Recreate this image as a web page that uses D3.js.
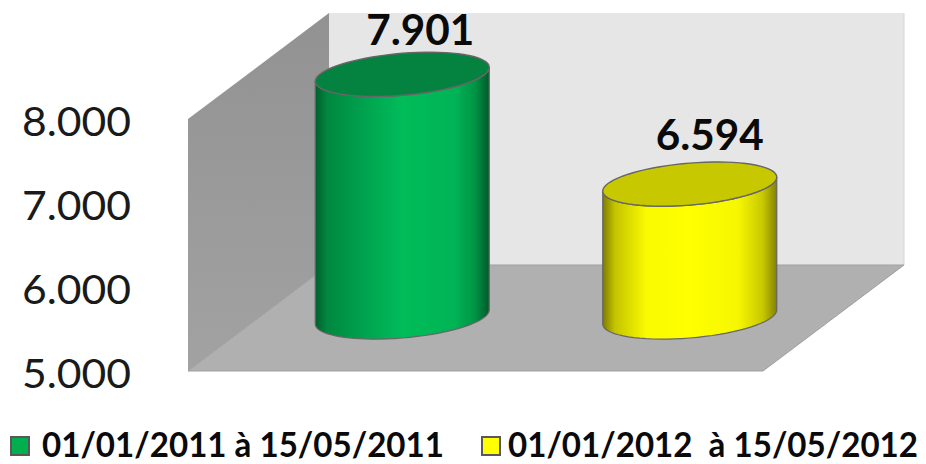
<!DOCTYPE html>
<html>
<head>
<meta charset="utf-8">
<script src="https://cdn.jsdelivr.net/npm/d3@7"></script>
<style>
html, body { margin: 0; padding: 0; background: #fff; }
svg { display: block; font-family: Lato, "Open Sans", sans-serif; }
</style>
</head>
<body>
<div id="chart"></div>
<script>
const periods = ['01/01/2011 à 15/05/2011', '01/01/2012  à 15/05/2012'];
const values = [7901, 6594];
const valueLabels = ['7.901', '6.594'];
const yTicks = [5000, 6000, 7000, 8000];
const yTickLabels = ['5.000', '6.000', '7.000', '8.000'];
const sideColors = ['green', 'yellow'];
const swatchColors = ['#00b050', '#ffff00'];
const topColors = ['#04823f', '#c8c800'];

const width = 926, height = 464;
// oblique depth of the 3D box
const depthX = 141, depthY = 106;

const svg = d3.select('#chart').append('svg')
    .attr('width', width)
    .attr('height', height);

const x = d3.scaleBand().domain(periods).range([188, 763]).padding(0);
const y = d3.scaleLinear().domain([5000, 8000]).range([371, 119]);

// gradients for the cylinder sides
const defs = svg.append('defs');
const sideStops = {
    green: [[0, '#005f2c'], [0.07, '#008840'], [0.3, '#00a550'], [0.5, '#00bc59'], [0.8, '#00b455'], [0.92, '#009345'], [1, '#005a2a']],
    yellow: [[0, '#7c7c00'], [0.07, '#c4c400'], [0.25, '#fafa00'], [0.5, '#ffff00'], [0.78, '#f6f600'], [0.92, '#c8c800'], [1, '#828200']]
};
Object.keys(sideStops).forEach(name => {
    defs.append('linearGradient').attr('id', 'side-' + name)
        .selectAll('stop').data(sideStops[name]).join('stop')
        .attr('offset', d => d[0])
        .attr('stop-color', d => d[1]);
});
const wallGrad = defs.append('linearGradient').attr('id', 'wall-left')
    .attr('x1', 0).attr('y1', 0).attr('x2', 0).attr('y2', 1);
wallGrad.append('stop').attr('offset', 0).attr('stop-color', '#929292');
wallGrad.append('stop').attr('offset', 1).attr('stop-color', '#a2a2a2');

const x0 = x.range()[0], x1 = x.range()[1];
const yBase = y(5000), yMax = y(8000);
const poly = pts => pts.map(p => p.join(',')).join(' ');

// back wall, left wall, floor
svg.append('polygon')
    .attr('points', poly([[x0 + depthX, yMax - depthY], [x1 + depthX, yMax - depthY], [x1 + depthX, yBase - depthY], [x0 + depthX, yBase - depthY]]))
    .attr('fill', '#e6e6e6');
svg.append('line')
    .attr('x1', x1 + depthX).attr('x2', x1 + depthX)
    .attr('y1', yMax - depthY).attr('y2', yBase - depthY)
    .attr('stroke', '#d6d6d6');
svg.append('polygon')
    .attr('points', poly([[x0, yMax], [x0 + depthX, yMax - depthY], [x0 + depthX, yBase - depthY], [x0, yBase]]))
    .attr('fill', 'url(#wall-left)');
svg.append('polygon')
    .attr('points', poly([[x0, yBase], [x0 + depthX, yBase - depthY], [x1 + depthX, yBase - depthY], [x1, yBase]]))
    .attr('fill', '#b0b0b0')
    .attr('stroke', '#a0a0a0')
    .attr('stroke-width', 1);

// y axis
const axis = d3.axisLeft(y)
    .tickValues(yTicks)
    .tickFormat((d, i) => yTickLabels[i])
    .tickSize(0)
    .tickPadding(57);
const axisG = svg.append('g')
    .attr('transform', `translate(${x0},0)`)
    .call(axis);
axisG.select('.domain').remove();
axisG.selectAll('text')
    .attr('font-family', 'Lato, sans-serif')
    .attr('font-size', 40)
    .attr('fill', '#1a1a1a')
    .attr('dy', '0.4em')
    .attr('textLength', 109)
    .attr('lengthAdjust', 'spacingAndGlyphs');

// cylinders
const radiusX = x.bandwidth() * 0.3026;   // half of the bar width
const tilt = 7, radiusY = 21;
const rimPoint = (cx, cy, t) => [cx + radiusX * Math.cos(t), cy - tilt * Math.cos(t) + radiusY * Math.sin(t)];
const angles = d3.range(0, 73).map(i => i * Math.PI / 36);
const rimLine = d3.line();

// labels do not sit at the same distance from their bars in the original
const labelShiftX = [18, 20];
const labelShiftY = [29, 34];

const bars = svg.selectAll('g.bar')
    .data(periods)
    .join('g')
    .attr('class', 'bar');

bars.each(function (p, i) {
    const g = d3.select(this);
    const cx = x(p) + x.bandwidth() / 2 + depthX / 2;
    const cyTop = y(values[i]) - depthY / 2;
    const cyBase = yBase - depthY / 2 - 1;
    const lower = angles.filter(t => t <= Math.PI + 1e-6);

    const bottom = lower.map(t => rimPoint(cx, cyBase, t));
    const top = lower.map(t => rimPoint(cx, cyTop, t));
    g.append('path')
        .attr('d', rimLine(top.concat(bottom.reverse())) + 'Z')
        .attr('fill', `url(#side-${sideColors[i]})`)
        .attr('stroke', '#666')
        .attr('stroke-width', 1.2);
    g.append('path')
        .attr('d', rimLine(angles.map(t => rimPoint(cx, cyTop, t))) + 'Z')
        .attr('fill', topColors[i])
        .attr('stroke', '#666')
        .attr('stroke-width', 1.4);
    g.append('text')
        .attr('x', cx + labelShiftX[i])
        .attr('y', cyTop - labelShiftY[i])
        .attr('text-anchor', 'middle')
        .attr('font-size', 42)
        .attr('font-weight', 700)
        .attr('fill', '#0a0a0a')
        .attr('textLength', 108)
        .attr('lengthAdjust', 'spacingAndGlyphs')
        .text(valueLabels[i]);
});

// legend, text stretched vertically like the original picture
const legendLeft = [11, 482];
const legendTextX = [31, 26];
const legendTextLength = [402, 410];
const legend = svg.selectAll('g.legend')
    .data(periods)
    .join('g')
    .attr('class', 'legend')
    .attr('transform', (d, i) => `translate(${legendLeft[i]},437)`);
legend.append('rect')
    .attr('width', 18).attr('height', 18)
    .attr('fill', (d, i) => swatchColors[i])
    .attr('stroke', '#595959')
    .attr('stroke-width', 2);
legend.append('text')
    .attr('transform', (d, i) => `translate(${legendTextX[i]},20) scale(1,1.15)`)
    .attr('font-size', 29)
    .attr('font-weight', 700)
    .attr('fill', '#0a0a0a')
    .style('white-space', 'pre')
    .attr('textLength', (d, i) => legendTextLength[i])
    .attr('lengthAdjust', 'spacingAndGlyphs')
    .text(d => d);
</script>
</body>
</html>
